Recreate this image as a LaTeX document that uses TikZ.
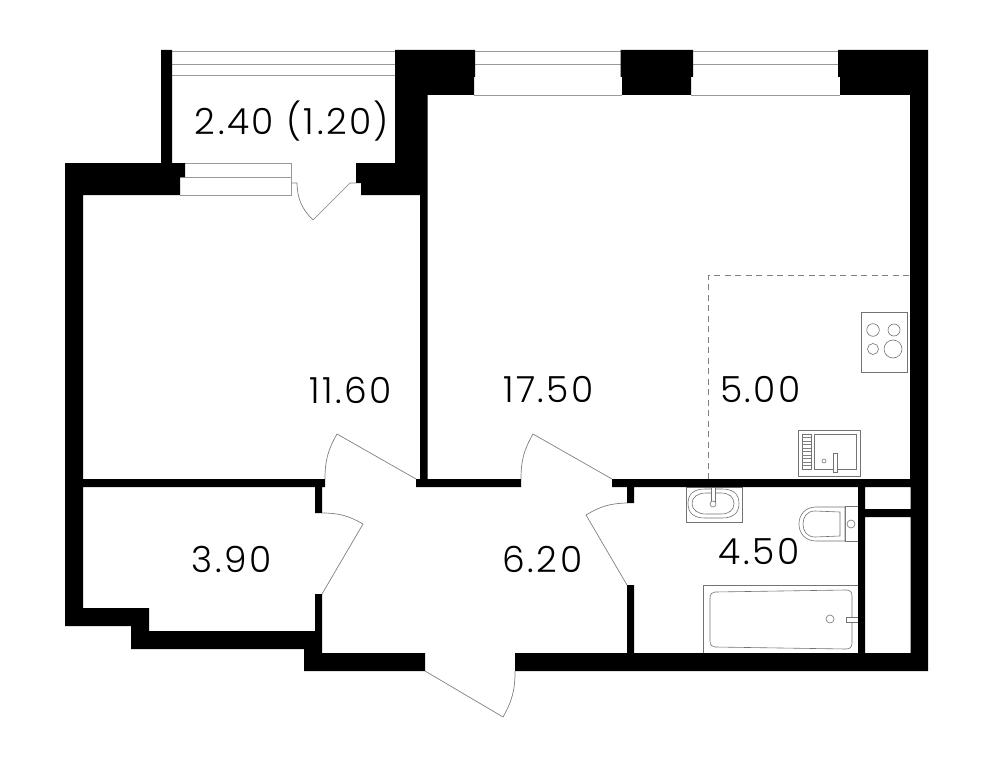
\documentclass[tikz,border=0pt]{standalone}
\usepackage{fontspec}
\setmainfont{Poppins}[UprightFont=* Light,LetterSpace=7]
\tikzset{
  wall/.style={fill=black,draw=none},
  thin line/.style={draw=black!50,line width=0.7pt,line join=miter},
  glass/.style={draw=black!40,line width=0.8pt,line join=miter},
  fixture/.style={draw=black!55,line width=0.6pt,fill=white},
  zone/.style={draw=black!50,line width=0.7pt,dash pattern=on 6pt off 4.5pt},
  area/.style={font=\fontsize{36}{36}\selectfont,text=black,inner sep=0pt,anchor=center}
}
\begin{document}
\begin{tikzpicture}[x=1pt,y=-1pt]
\useasboundingbox (0,0) rectangle (994,768);
% kitchen zone
\draw[zone] (708,479) -- (708,275) -- (910,275);
% windows
\draw[glass] (172,51) -- (395,51) (172,64) -- (395,64) (172,75) -- (395,75);
\draw[glass] (185,163.5) -- (291.5,163.5) -- (291.5,195) -- (180,195) (180,177) -- (291.5,177);
\draw[glass] (475,51) -- (621,51) (475,64) -- (621,64) (474,95) -- (622,95);
\draw[glass] (693,51) -- (838,51) (693,64) -- (838,64) (691,95) -- (840,95);
% hob
\draw[fixture] (861,312) rectangle (907,372);
\draw[fixture] (873,330) circle (6.3) (894,330) circle (6) (873,349) circle (5.5) (893,349) circle (9);
% kitchen sink
\draw[fixture] (798,430) rectangle (860,476);
\draw[fixture] (814,434) rectangle (856,469);
\draw[fixture] (802,434) rectangle (811,469);
\foreach \yy in {437.5,441,444.5,448,451.5,455,458.5,462,465.5}
  \draw[thin line] (802,\yy) -- (811,\yy);
\draw[fixture] (833,453) rectangle (837,472);
\draw[fixture] (824,461) circle (2);
% washbasin
\draw[fixture] (686,487) rectangle (742,522);
\draw[fixture] (688,503.5) .. controls (688,493) and (695,489) .. (705,489) -- (722,489) .. controls (732,489) and (739,493) .. (739,503.5) .. controls (739,514) and (732,518) .. (722,518) -- (705,518) .. controls (695,518) and (688,514) .. (688,503.5) -- cycle;
\draw[fixture] (692,503.5) .. controls (692,497) and (698,493) .. (706,493) -- (721,493) .. controls (729,493) and (734,497) .. (734,503.5) .. controls (734,510) and (729,514) .. (721,514) -- (706,514) .. controls (698,514) and (692,510) .. (692,503.5) -- cycle;
\draw[fixture] (711,487) rectangle (715,502);
\draw[fixture] (713,504) circle (3);
% toilet
\draw[fixture] (845,506) rectangle (858,541);
\draw[fixture] (845,507) -- (816,507) .. controls (805,507) and (799,515) .. (799,524) .. controls (799,533) and (805,541) .. (816,541) -- (845,541) -- cycle;
\draw[fixture] (840,512) -- (815,511) .. controls (807,511) and (803,517) .. (803,524) .. controls (803,531) and (807,537) .. (815,537) -- (840,536) -- cycle;
\draw[fixture] (851,524) circle (4);
% bath
\draw[fixture] (858,585) -- (703,585) -- (703,653) -- (858,653);
\draw[fixture] (715,592) -- (846,590) .. controls (850,590) and (852,592) .. (852,596) -- (852,643) .. controls (852,647) and (850,649) .. (846,649) -- (715,647) .. controls (712,647) and (710,645) .. (710,641) -- (710,598) .. controls (710,594) and (712,592) .. (715,592) -- cycle;
\draw[fixture] (830,619) circle (4);
\draw[fixture] (858,617) -- (846,617) -- (846,622) -- (858,622);
% walls
\fill[wall] (65,163) -- (161,163) -- (161,50) -- (172,50) -- (172,163) -- (185,163) -- (185,177) -- (180,177) -- (180,195) -- (83,195) -- (83,479) -- (325,479) -- (325,487) -- (322,487) -- (322,513) -- (315,513) -- (315,487) -- (83,487) -- (83,608) -- (149,608) -- (149,631) -- (315,631) -- (315,594) -- (322,594) -- (322,653) -- (425,653) -- (425,671) -- (304,671) -- (304,649) -- (131,649) -- (131,626) -- (65,626) -- cycle;
\fill[wall] (356,163) -- (395,163) -- (395,50) -- (475,50) -- (475,77) -- (474,77) -- (474,95) -- (427.5,95) -- (427.5,479) -- (521,479) -- (521,487) -- (416,487) -- (416,479) -- (420,479) -- (420,195) -- (361,195) -- (361,183) -- (356,183) -- cycle;
\fill[wall] (620.5,50) -- (693,50) -- (693,77) -- (691,77) -- (691,95) -- (622,95) -- (622,77) -- (620.5,77) -- cycle;
\fill[wall,even odd rule] (838,50) -- (928,50) -- (928,671) -- (515,671) -- (515,653) -- (627,653) -- (627,585) -- (634,585) -- (634,653) -- (858,653) -- (858,487) -- (634,487) -- (634,503) -- (627,503) -- (627,487) -- (612,487) -- (612,479) -- (910,479) -- (910,95) -- (840,95) -- (840,77) -- (838,77) -- cycle
  (865,487) rectangle (910.5,509) (865,517) rectangle (910.5,653);
% door anchors
\coordinate (dAh) at (416,479); \coordinate (dAt) at (337,434); \coordinate (dAe) at (325,479);
\coordinate (dBh) at (612,479); \coordinate (dBt) at (533,434); \coordinate (dBe) at (521,479);
\coordinate (dCh) at (322,594); \coordinate (dCt) at (363,524); \coordinate (dCe) at (322,513);
\coordinate (dDh) at (627,585); \coordinate (dDt) at (586,515); \coordinate (dDe) at (627,503);
\coordinate (dEh) at (425,671); \coordinate (dEt) at (503,717); \coordinate (dEe) at (515,671);
\coordinate (dFh) at (350,183); \coordinate (dFt) at (313,220); \coordinate (dFe) at (297,183);
\draw[thin line] (dAh) -- (dAt) to[bend right=15] (dAe);
\draw[thin line] (dBh) -- (dBt) to[bend right=15] (dBe);
\draw[thin line] (dCh) -- (dCt) to[bend right=15] (dCe);
\draw[thin line] (dDh) -- (dDt) to[bend left=15] (dDe);
\draw[thin line] (dEh) -- (dEt) to[bend right=15] (dEe);
\draw[thin line] (356,183) -- (dFh) -- (dFt) to[bend left=22] (dFe) -- (291.5,183);
% areas
\node[area] (balcony) at (292,121) {2.40 (1.20)};
\node[area] (bedroom) at (350.5,390) {11.60};
\node[area] (living) at (548.5,390) {17.50};
\node[area] (kitchen) at (760.5,390) {5.00};
\node[area] (closet) at (231.5,559) {3.90};
\node[area] (hall) at (542.5,559) {6.20};
\node[area] (bathroom) at (759,552) {4.50};
\end{tikzpicture}
\end{document}
